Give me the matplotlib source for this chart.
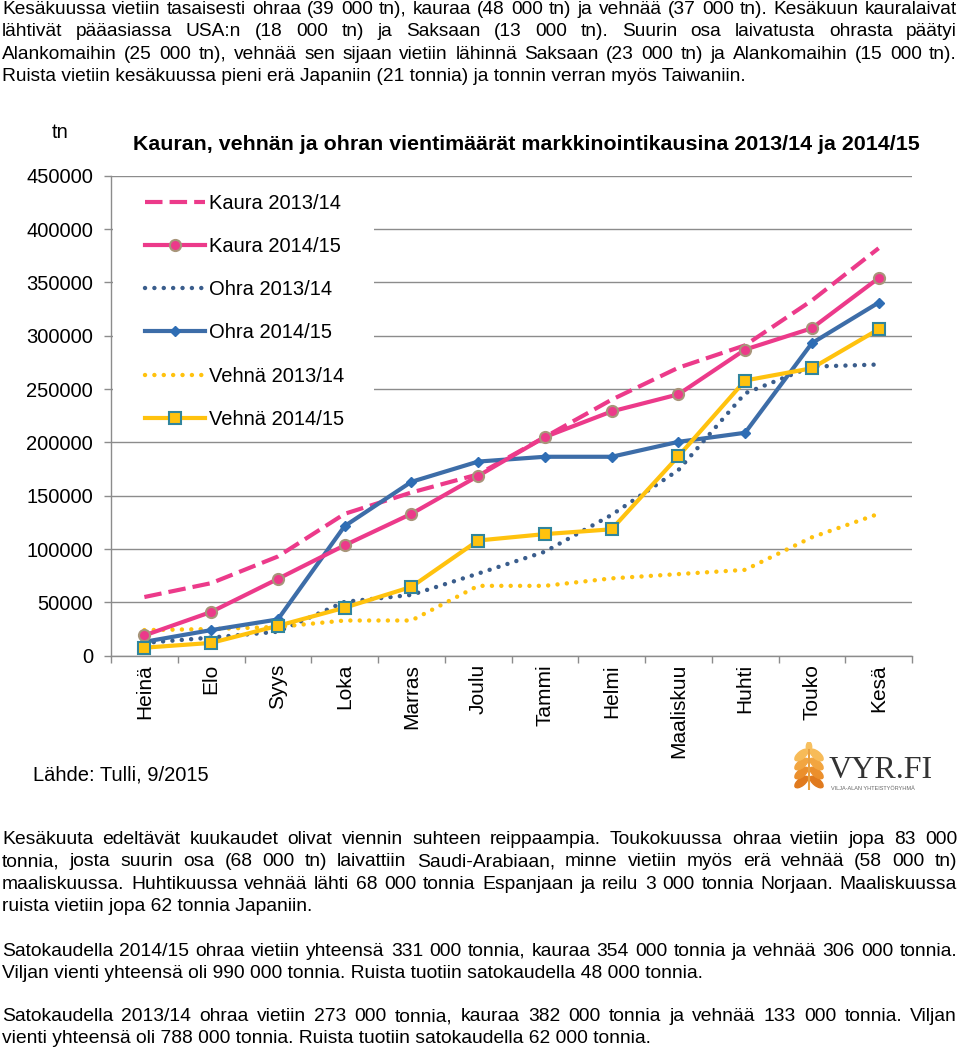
import matplotlib
matplotlib.use("Agg")
import matplotlib.pyplot as plt
from matplotlib.patches import Ellipse, Rectangle

W, H = 960, 1047

months = ["Heinä", "Elo", "Syys", "Loka", "Marras", "Joulu", "Tammi",
          "Helmi", "Maaliskuu", "Huhti", "Touko", "Kesä"]

kaura_1314 = [55000, 68000, 93000, 133000, 153000, 170000, 205000, 240000, 270000, 291000, 333000, 382000]
kaura_1415 = [19000, 41000, 72000, 103500, 133000, 168500, 205000, 229000, 245000, 287000, 307000, 354000]
ohra_1314 = [12000, 17000, 22500, 50500, 57000, 77000, 97500, 132000, 174000, 246000, 271000, 273000]
ohra_1415 = [13000, 24000, 34000, 121500, 163000, 182000, 186500, 186500, 200500, 209000, 293000, 331000]
vehna_1314 = [24000, 25000, 27000, 33000, 33000, 65500, 65500, 72500, 76500, 80500, 111000, 133000]
vehna_1415 = [7500, 12000, 28000, 45000, 64500, 108000, 114000, 118500, 187000, 258000, 269500, 306000]

yticks = [0, 50000, 100000, 150000, 200000, 250000, 300000, 350000, 400000, 450000]

title = "Kauran, vehnän ja ohran vientimäärät markkinointikausina 2013/14 ja 2014/15"

top_text = [
    "Kesäkuussa vietiin tasaisesti ohraa (39 000 tn), kauraa (48 000 tn) ja vehnää (37 000 tn). Kesäkuun kauralaivat",
    "lähtivät pääasiassa USA:n (18 000 tn) ja Saksaan (13 000 tn). Suurin osa laivatusta ohrasta päätyi",
    "Alankomaihin (25 000 tn), vehnää sen sijaan vietiin lähinnä Saksaan (23 000 tn) ja Alankomaihin (15 000 tn).",
    "Ruista vietiin kesäkuussa pieni erä Japaniin (21 tonnia) ja tonnin verran myös Taiwaniin.",
]
par1 = [
    "Kesäkuuta edeltävät kuukaudet olivat viennin suhteen reippaampia. Toukokuussa ohraa vietiin jopa 83 000",
    "tonnia, josta suurin osa (68 000 tn) laivattiin Saudi-Arabiaan, minne vietiin myös erä vehnää (58 000 tn)",
    "maaliskuussa. Huhtikuussa vehnää lähti 68 000 tonnia Espanjaan ja reilu 3 000 tonnia Norjaan. Maaliskuussa",
    "ruista vietiin jopa 62 tonnia Japaniin.",
]
par2 = [
    "Satokaudella 2014/15 ohraa vietiin yhteensä 331 000 tonnia, kauraa 354 000 tonnia ja vehnää 306 000 tonnia.",
    "Viljan vienti yhteensä oli 990 000 tonnia. Ruista tuotiin satokaudella 48 000 tonnia.",
]
par3 = [
    "Satokaudella 2013/14 ohraa vietiin 273 000 tonnia, kauraa 382 000 tonnia ja vehnää 133 000 tonnia. Viljan",
    "vienti yhteensä oli 788 000 tonnia. Ruista tuotiin satokaudella 62 000 tonnia.",
]

PINK = "#EC3A8A"
BLUE = "#3D6DA8"
DBLUE = "#3A5D8C"
YEL = "#FFC20E"
GRID = "#8C8C8C"

plt.rcParams["font.family"] = ["Liberation Sans", "DejaVu Sans"]

fig = plt.figure(figsize=(W / 100, H / 100), dpi=100)
renderer = fig.canvas.get_renderer()


def fx(x):
    return x / W


def fy(y):
    return 1 - y / H


def text_width(s, size):
    t = fig.text(0, 0, s, fontsize=size)
    w = t.get_window_extent(renderer).width
    t.remove()
    return w


def fit_size(last_line, last_end, justified, x0=2, full=948):
    size = 10 * (last_end - x0) / text_width(last_line, 10)
    for line in justified:
        size = min(size, 10 * (full - x0) / text_width(line, 10))
    return size


def put_line(line, base, size, justify, x0=2, x1=957):
    if not justify:
        fig.text(fx(x0), fy(base), line, fontsize=size, va="baseline", ha="left")
        return
    words = line.split(" ")
    widths = [text_width(w, size) for w in words]
    gap = (x1 - x0 - sum(widths)) / (len(words) - 1)
    x = x0
    for w, wd in zip(words, widths):
        fig.text(fx(x), fy(base), w, fontsize=size, va="baseline", ha="left")
        x += wd + gap


def put_par(lines, first_base, size, step=22.3):
    for i, line in enumerate(lines):
        put_line(line, first_base + i * step, size, i < len(lines) - 1)


top_size = fit_size(top_text[3], 793, top_text[:3])
bottom_size = fit_size(par2[1], 707, par1[:3] + par2[:1] + par3[:1])

put_par(top_text, 14, top_size)
put_par(par1, 844, bottom_size)
put_par(par2, 955.5, bottom_size)
put_par(par3, 1021, bottom_size)

# ---- chart ----
ax = fig.add_axes([fx(111), fy(655.7), (912 - 111) / W, 480 / H])
x = list(range(len(months)))

ax.plot(x, kaura_1314, color=PINK, lw=3, linestyle=(0, (4.2, 1.7)), label="Kaura 2013/14", zorder=3)
ax.plot(x, kaura_1415, color=PINK, lw=3, marker="o", ms=8, mfc=PINK, mec="#A8957A", mew=1.5,
        label="Kaura 2014/15", zorder=5)
ax.plot(x, ohra_1314, color=DBLUE, lw=3.2, linestyle=(0, (0.01, 2.1)), dash_capstyle="round",
        label="Ohra 2013/14", zorder=3)
ax.plot(x, ohra_1415, color=BLUE, lw=3, marker="D", ms=5, mfc="#2E6DB4", mec="#2E6DB4",
        label="Ohra 2014/15", zorder=4)
ax.plot(x, vehna_1314, color=YEL, lw=3.2, linestyle=(0, (0.01, 2.1)), dash_capstyle="round",
        label="Vehnä 2013/14", zorder=3)
ax.plot(x, vehna_1415, color=YEL, lw=3, marker="s", ms=8, mfc=YEL, mec="#31859C", mew=1.5,
        label="Vehnä 2014/15", zorder=6)

ax.set_xlim(-0.5, len(months) - 0.5)
ax.set_ylim(0, 450000)
ax.set_yticks(yticks)
ax.set_yticklabels([str(v) for v in yticks], fontsize=14.5)
ax.set_xticks(x)
ax.set_xticklabels(months, rotation=90, fontsize=15, va="top")
ax.set_xticks([i - 0.5 for i in range(len(months) + 1)], minor=True)
ax.tick_params(axis="x", which="major", length=0, pad=6)
ax.tick_params(axis="x", which="minor", length=5, color=GRID, width=1)
ax.tick_params(axis="y", length=5, color=GRID, width=1, pad=8)
ax.grid(axis="y", color=GRID, lw=1)
ax.set_axisbelow(True)
for s in ["top", "right"]:
    ax.spines[s].set_visible(False)
for s in ["left", "bottom"]:
    ax.spines[s].set_color(GRID)
    ax.spines[s].set_linewidth(1)

# white area behind legend hides the gridlines there
ax.add_patch(Rectangle((0.002, 0.53), (373 - 112) / 801, 0.46, transform=ax.transAxes,
                       facecolor="white", edgecolor="none", zorder=1))
ax.legend(loc="upper left", bbox_to_anchor=((145 - 111) / 801, 0.962), frameon=False,
          fontsize=14.5, handlelength=3.0, handletextpad=0.2, labelspacing=1.2,
          borderpad=0, borderaxespad=0)

fig.text(fx(526.5), fy(144), title, fontsize=15.4, fontweight="bold", ha="center", va="center")
fig.text(fx(60), fy(133), "tn", fontsize=14.5, ha="center", va="center")
fig.text(fx(33), fy(775), "Lähde: Tulli, 9/2015", fontsize=14.5, ha="left", va="center")

# ---- logo ----
lax = fig.add_axes([fx(791), fy(790), 36 / W, 48 / H])
lax.set_xlim(-1, 1)
lax.set_ylim(0, 2.4)
lax.axis("off")
lax.plot([0, 0], [0.05, 2.0], color="#E9A040", lw=1.5)
for k in range(4):
    yy = 0.4 + k * 0.45
    c = ["#E07A1E", "#EB8F2C", "#F2A540", "#F7BB58"][k]
    lax.add_patch(Ellipse((-0.42, yy), 0.85, 0.38, angle=35, color=c))
    lax.add_patch(Ellipse((0.42, yy), 0.85, 0.38, angle=-35, color=c))
lax.add_patch(Ellipse((0, 2.15), 0.3, 0.5, color="#F7C060"))
fig.text(fx(829), fy(770), "VYR.FI", fontsize=23, family=["Liberation Serif", "DejaVu Serif"],
         color="#333333", ha="left", va="center")
fig.text(fx(831), fy(788), "VILJA-ALAN YHTEISTYÖRYHMÄ", fontsize=4, color="#666666",
         ha="left", va="center")

fig.savefig("out.png", dpi=100)
